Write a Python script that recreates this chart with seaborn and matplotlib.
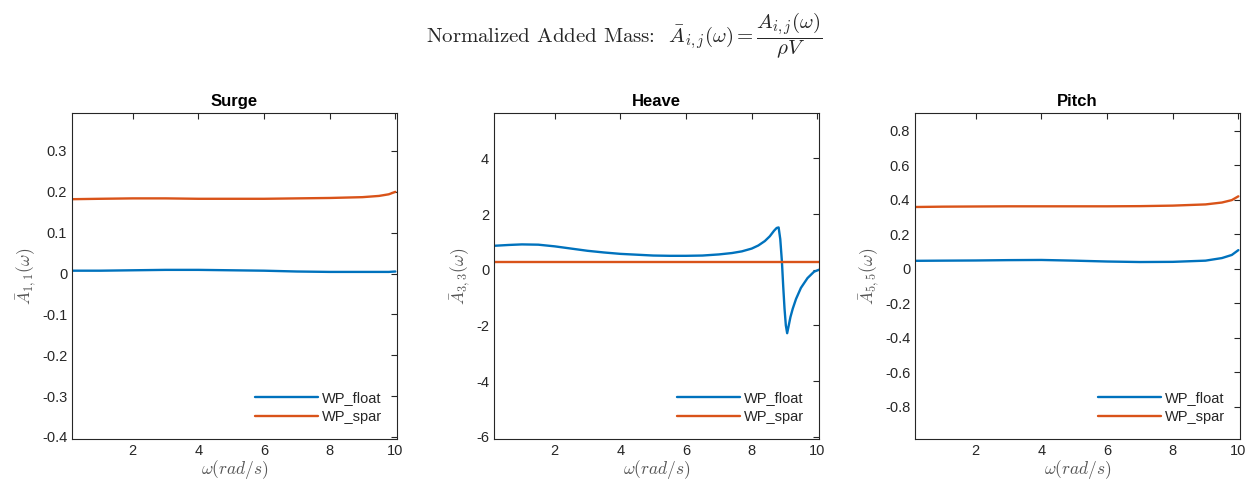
import numpy as np
import pandas as pd
import matplotlib
matplotlib.use("Agg")
import matplotlib.pyplot as plt
import seaborn as sns
from matplotlib.ticker import FuncFormatter

# values
surge_w = [0.15, 1, 2, 3, 4, 5, 6, 7, 8, 9, 9.5, 9.8, 10]
surge_float = [0.007, 0.007, 0.008, 0.009, 0.009, 0.008, 0.007, 0.005, 0.004, 0.004, 0.004, 0.004, 0.005]
surge_spar = [0.182, 0.183, 0.184, 0.184, 0.183, 0.183, 0.183, 0.184, 0.185, 0.187, 0.190, 0.194, 0.200]

heave_w = [0.15, 0.6, 1.0, 1.5, 2.0, 2.5, 3.0, 3.5, 4.0, 4.5, 5.0, 5.5, 6.0, 6.5, 7.0,
           7.4, 7.7, 8.0, 8.2, 8.4, 8.55, 8.68, 8.76, 8.82, 8.87, 8.92, 8.96, 9.0,
           9.04, 9.08, 9.12, 9.18, 9.25, 9.35, 9.5, 9.7, 9.9, 10.05]
heave_float = [0.86, 0.89, 0.91, 0.90, 0.84, 0.76, 0.68, 0.62, 0.57, 0.54, 0.51, 0.50, 0.50, 0.51, 0.55,
               0.60, 0.66, 0.76, 0.87, 1.03, 1.20, 1.40, 1.50, 1.52, 1.10, 0.30, -0.60, -1.40,
               -2.00, -2.28, -2.05, -1.70, -1.40, -1.05, -0.65, -0.30, -0.07, 0.0]
heave_spar_w = [0.15, 10.05]
heave_spar = [0.26, 0.26]

pitch_w = surge_w
pitch_float = [0.046, 0.047, 0.048, 0.050, 0.051, 0.047, 0.042, 0.039, 0.040, 0.047, 0.062, 0.080, 0.108]
pitch_spar = [0.358, 0.360, 0.361, 0.362, 0.362, 0.362, 0.362, 0.363, 0.366, 0.373, 0.384, 0.398, 0.420]

titles = ["Surge", "Heave", "Pitch"]
ylabels = [r"$\bar{A}_{1,1}(\omega)$", r"$\bar{A}_{3,3}(\omega)$", r"$\bar{A}_{5,5}(\omega)$"]
yticks = [np.round(np.arange(-0.4, 0.31, 0.1), 1),
          np.arange(-6, 5, 2),
          np.round(np.arange(-0.8, 0.81, 0.2), 1)]
ylims = [(-0.405, 0.393), (-6.08, 5.63), (-0.987, 0.903)]
xticks = [2, 4, 6, 8, 10]

sns.set_style("white")
plt.rcParams["font.family"] = ["Liberation Sans", "DejaVu Sans"]
plt.rcParams["mathtext.fontset"] = "cm"
plt.rcParams["axes.unicode_minus"] = False

blue = "#0072BD"
orange = "#D95319"
dark = "#262626"

def frame(w_float, y_float, w_spar, y_spar):
    a = pd.DataFrame({"w": w_float, "A": y_float, "body": "WP_float"})
    b = pd.DataFrame({"w": w_spar, "A": y_spar, "body": "WP_spar"})
    return pd.concat([a, b], ignore_index=True)

panels = [frame(surge_w, surge_float, surge_w, surge_spar),
          frame(heave_w, heave_float, heave_spar_w, heave_spar),
          frame(pitch_w, pitch_float, pitch_w, pitch_spar)]

fig = plt.figure(figsize=(12.49, 4.88), dpi=100)
lefts = [72, 494, 915]
for i, df in enumerate(panels):
    ax = fig.add_axes([lefts[i] / 1249, 49 / 488, 325 / 1249, 326 / 488])
    sns.lineplot(data=df, x="w", y="A", hue="body", palette=[blue, orange],
                 linewidth=1.7, sort=False, estimator=None, ax=ax)
    ax.set_xlim(0.15, 10.05)
    ax.set_ylim(*ylims[i])
    ax.set_xticks(xticks)
    ax.set_yticks(yticks[i])
    ax.yaxis.set_major_formatter(FuncFormatter(lambda v, p: "%g" % (round(v, 2) + 0.0)))
    ax.tick_params(direction="in", top=True, right=True, length=4, width=0.8,
                   labelsize=10.5, colors=dark, labelcolor=dark)
    for s in ax.spines.values():
        s.set_color(dark)
        s.set_linewidth(0.8)
    ax.set_title(titles[i], fontsize=12, fontweight="bold", color="black", pad=5)
    ax.set_xlabel(r"$\omega(rad/s)$", fontsize=12.5, color="#555555", labelpad=0)
    ax.set_ylabel(ylabels[i], fontsize=12.5, color="#555555", labelpad=2)
    leg = ax.legend(loc="lower right", frameon=False, fontsize=10.5, handlelength=4.3,
                    handletextpad=0.3, labelspacing=0.35, borderaxespad=0.6)
    for t in leg.get_texts():
        t.set_color(dark)

fig.text(0.5, 1 - 36 / 488,
         r"Normalized Added Mass:  $\bar{A}_{i,j}(\omega) = \dfrac{A_{i,j}(\omega)}{\rho V}$",
         ha="center", va="center", fontsize=15, family="cmr10")

fig.savefig("out.png", dpi=100)
